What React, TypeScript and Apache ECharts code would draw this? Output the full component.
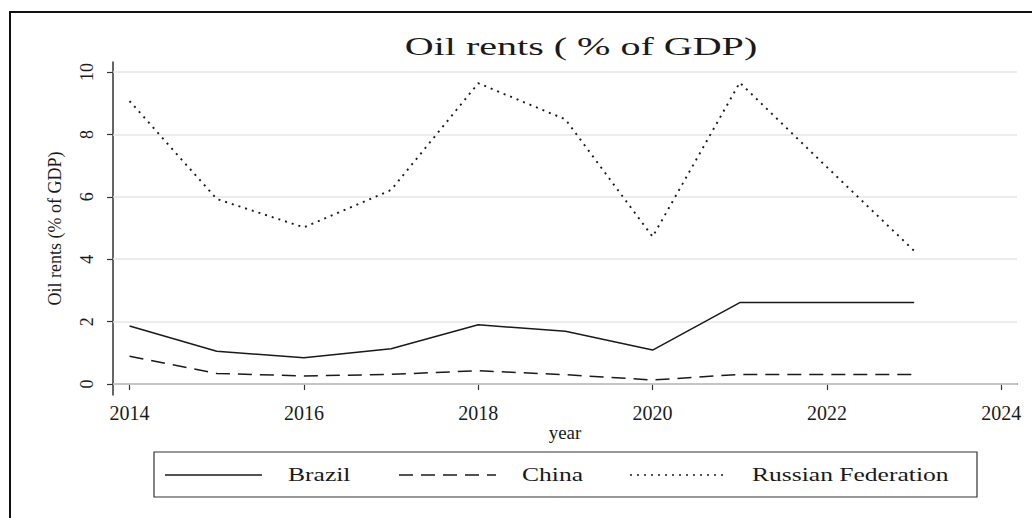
import React, { useEffect, useRef } from 'react';
import * as echarts from 'echarts';

const years = [2014, 2015, 2016, 2017, 2018, 2019, 2020, 2021, 2022, 2023];
const brazil = [1.86, 1.05, 0.84, 1.13, 1.9, 1.69, 1.09, 2.61, 2.61, 2.61];
const china = [0.89, 0.34, 0.26, 0.31, 0.43, 0.3, 0.13, 0.31, 0.31, 0.31];
const russia = [9.07, 5.93, 5.02, 6.22, 9.64, 8.48, 4.72, 9.66, 6.95, 4.27];
const seriesNames = ['Brazil', 'China', 'Russian Federation'];
const xTicks = [2014, 2016, 2018, 2020, 2022, 2024];
const yTicks = [0, 2, 4, 6, 8, 10];

const FONT = 'Liberation Serif';
const INK = '#1a1a1a';
const dashes: any[] = ['solid', [14, 8], [2, 5]];
const widths = [1.5, 1.5, 1.9];

export default function App() {
  const ref = useRef<HTMLDivElement>(null);
  useEffect(() => {
    if (!ref.current) return;
    const chart = echarts.init(ref.current, null, { renderer: 'svg' });
    const values = [brazil, china, russia];
    const series: any[] = values.map((arr, i) => ({
      name: seriesNames[i],
      type: 'line',
      data: years.map((y, k) => [y, arr[k]]),
      symbol: 'none',
      z: 3,
      lineStyle: { color: INK, width: widths[i], type: dashes[i], cap: 'butt' },
    }));
    series.push({
      name: 'grid',
      type: 'line',
      data: [],
      z: 1,
      silent: true,
      markLine: {
        silent: true,
        z: 1,
        symbol: ['none', 'none'],
        label: { show: false },
        lineStyle: { color: '#e6e6e6', width: 1.6, type: 'solid' },
        data: yTicks.map((v) => ({ yAxis: v })),
      },
    });

    const legendItems = [
      { iconX: 165, textX: 288 },
      { iconX: 399, textX: 522 },
      { iconX: 630, textX: 752 },
    ];
    const legendGraphics: any[] = [
      {
        type: 'rect',
        shape: { x: 154, y: 452, width: 823, height: 45 },
        style: { fill: '#fff', stroke: '#333', lineWidth: 1.2 },
      },
    ];
    seriesNames.forEach((name, i) => {
      legendGraphics.push({
        type: 'line',
        shape: { x1: legendItems[i].iconX, y1: 475, x2: legendItems[i].iconX + 97, y2: 475 },
        style: {
          stroke: INK,
          lineWidth: i === 2 ? 1.6 : 1.5,
          lineDash: i === 0 ? null : dashes[i],
        },
      });
      legendGraphics.push({
        type: 'text',
        x: legendItems[i].textX,
        y: 475,
        scaleX: 1.42,
        style: {
          text: name,
          fontFamily: FONT,
          fontSize: 18,
          fill: INK,
          verticalAlign: 'middle',
          align: 'left',
        },
      });
    });

    chart.setOption({
      animation: false,
      backgroundColor: '#fff',
      textStyle: { fontFamily: FONT },
      grid: { left: 113, right: 15, top: 62, bottom: 123, containLabel: false },
      xAxis: {
        type: 'value',
        min: 2013.81,
        max: 2024.18,
        name: 'year',
        nameLocation: 'middle',
        nameGap: 37,
        nameMoveOverlap: false,
        nameTextStyle: { fontFamily: FONT, fontSize: 19, color: INK, verticalAlign: 'middle' },
        axisLine: { show: true, lineStyle: { color: '#333', width: 1.5 } },
        axisTick: { show: true, length: 6, customValues: xTicks, lineStyle: { color: '#333', width: 1.2 } },
        axisLabel: {
          customValues: xTicks,
          fontFamily: FONT,
          fontSize: 20,
          color: INK,
          margin: 8,
          formatter: (v: number) => String(v),
        },
        splitLine: { show: false },
      },
      yAxis: {
        type: 'value',
        min: -0.35,
        max: 10.32,
        name: 'Oil rents (% of GDP)',
        nameLocation: 'middle',
        nameGap: 58,
        nameMoveOverlap: false,
        nameRotate: 90,
        nameTextStyle: { fontFamily: FONT, fontSize: 18, color: INK, verticalAlign: 'middle' },
        axisLine: { show: true, lineStyle: { color: '#333', width: 1.5 } },
        axisTick: { show: true, length: 6, customValues: yTicks, lineStyle: { color: '#333', width: 1.2 } },
        axisLabel: {
          customValues: yTicks,
          rotate: 90,
          fontFamily: FONT,
          fontSize: 18,
          color: INK,
          margin: 17,
          formatter: (v: number) => String(v),
        },
        splitLine: { show: false },
      },
      series,
      graphic: [
        {
          type: 'rect',
          silent: true,
          shape: { x: 10, y: 12, width: 1100, height: 600 },
          style: { fill: 'none', stroke: '#111', lineWidth: 2 },
        },
        {
          type: 'text',
          x: 581,
          y: 46,
          scaleX: 1.54,
          style: {
            text: 'Oil rents ( % of GDP)',
            fontFamily: FONT,
            fontSize: 26,
            fill: INK,
            align: 'center',
            verticalAlign: 'middle',
          },
        },
        ...legendGraphics,
      ],
    });
    return () => chart.dispose();
  }, []);
  return (
    <div
      ref={ref}
      style={{ position: 'fixed', left: 0, top: 0, width: 1032, height: 518, background: '#fff' }}
    />
  );
}
